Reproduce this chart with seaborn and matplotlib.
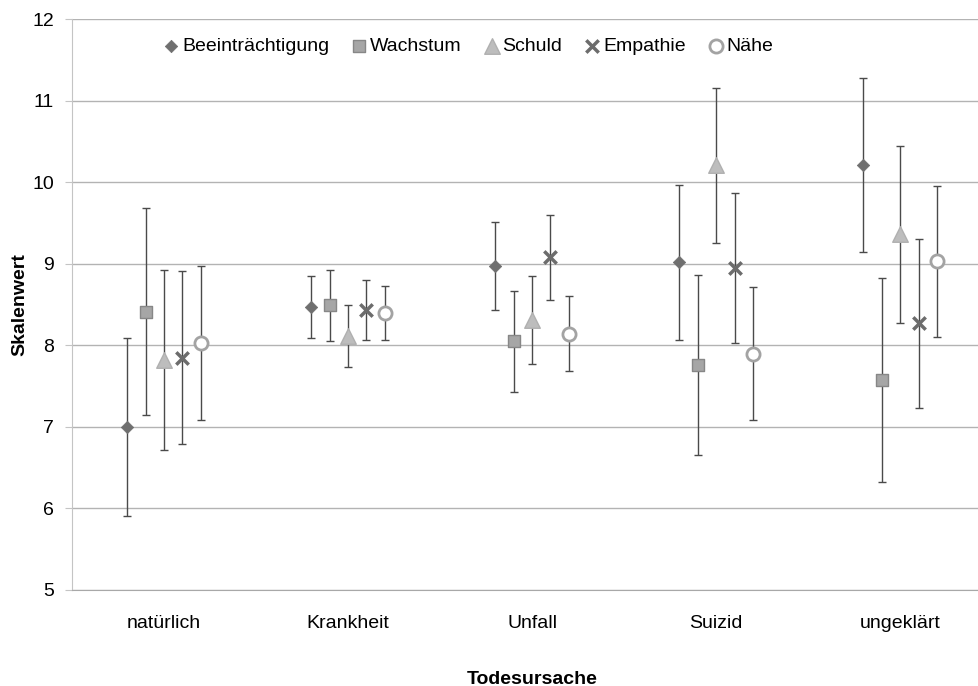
import numpy as np
import pandas as pd
import matplotlib
matplotlib.use("Agg")
import matplotlib.pyplot as plt
import seaborn as sns

# categories and series
causes = ["natürlich", "Krankheit", "Unfall", "Suizid", "ungeklärt"]
series = ["Beeinträchtigung", "Wachstum", "Schuld", "Empathie", "Nähe"]

beeintraechtigung = [7.00, 8.47, 8.97, 9.02, 10.21]
beeintraechtigung_err = [1.09, 0.38, 0.54, 0.95, 1.07]
wachstum = [8.41, 8.49, 8.05, 7.76, 7.58]
wachstum_err = [1.27, 0.44, 0.62, 1.10, 1.25]
schuld = [7.82, 8.11, 8.31, 10.21, 9.36]
schuld_err = [1.10, 0.38, 0.54, 0.95, 1.08]
empathie = [7.85, 8.43, 9.08, 8.95, 8.27]
empathie_err = [1.06, 0.37, 0.52, 0.92, 1.04]
naehe = [8.03, 8.40, 8.14, 7.90, 9.03]
naehe_err = [0.94, 0.33, 0.46, 0.82, 0.93]

means = [beeintraechtigung, wachstum, schuld, empathie, naehe]
errors = [beeintraechtigung_err, wachstum_err, schuld_err, empathie_err, naehe_err]

# long-form table, each series shifted a little inside its category
rows = []
for s_idx, name in enumerate(series):
    for c_idx, cause in enumerate(causes):
        rows.append({
            "Serie": name,
            "Todesursache": cause,
            "x": c_idx + 1 + (s_idx - 2) * 0.1,
            "Wert": means[s_idx][c_idx],
            "Fehler": errors[s_idx][c_idx],
        })
df = pd.DataFrame(rows)

sns.set_style("white")
plt.rcParams["font.family"] = ["Liberation Sans", "DejaVu Sans"]
plt.rcParams["text.color"] = "black"
plt.rcParams["xtick.color"] = "black"
plt.rcParams["ytick.color"] = "black"
plt.rcParams["axes.labelcolor"] = "black"

fig = plt.figure(figsize=(9.79, 6.86), dpi=100)
ax = fig.add_axes([0.0735, 0.140, 0.94, 0.832])

# marker styles per series
styles = {
    "Beeinträchtigung": dict(marker="D", s=40, color="#6f6f6f", edgecolor="#6f6f6f", linewidth=0.5),
    "Wachstum": dict(marker="s", s=75, color="#a6a6a6", edgecolor="#878787", linewidth=1),
    "Schuld": dict(marker="^", s=125, color="#bdbdbd", edgecolor="#b0b0b0", linewidth=1),
    "Empathie": dict(marker="x", s=80, color="#6c6c6c", linewidth=2.5),
    "Nähe": dict(marker="o", s=90, color="white", edgecolor="#a3a3a3", linewidth=2),
}

for name in series:
    sub = df[df["Serie"] == name]
    ax.errorbar(sub["x"], sub["Wert"], yerr=sub["Fehler"], fmt="none",
                ecolor="#4a4a4a", elinewidth=1, capsize=3, capthick=1, zorder=2)
    sns.scatterplot(data=sub, x="x", y="Wert", ax=ax, zorder=3, label=name,
                    **styles[name])

ax.set_xlim(0.5, 5.5)
ax.set_ylim(5, 12)
ax.set_yticks(range(5, 13))
ax.set_xticks(range(1, 6))
ax.set_xticklabels(causes)
ax.yaxis.grid(True, color="#b3b3b3", linewidth=1)
ax.xaxis.grid(False)
ax.set_axisbelow(True)

for side in ["top", "right"]:
    ax.spines[side].set_visible(False)
ax.spines["left"].set_color("#c4c4c4")
ax.spines["bottom"].set_color("#a8a8a8")
ax.tick_params(axis="y", which="both", left=True, length=5, color="#c4c4c4",
               labelsize=14, pad=8)
ax.tick_params(axis="x", length=0, labelsize=14, pad=18)

ax.set_ylabel("Skalenwert", fontsize=14, fontweight="bold", labelpad=3)
ax.set_xlabel("Todesursache", fontsize=14, fontweight="bold", labelpad=28)

leg = ax.legend(loc="center", bbox_to_anchor=(0.477, 0.933),
                bbox_transform=fig.transFigure, ncol=5, frameon=False,
                fontsize=14, handletextpad=0.0, columnspacing=1.0,
                handlelength=1.1, borderaxespad=0)

fig.savefig("out.png", dpi=100)
